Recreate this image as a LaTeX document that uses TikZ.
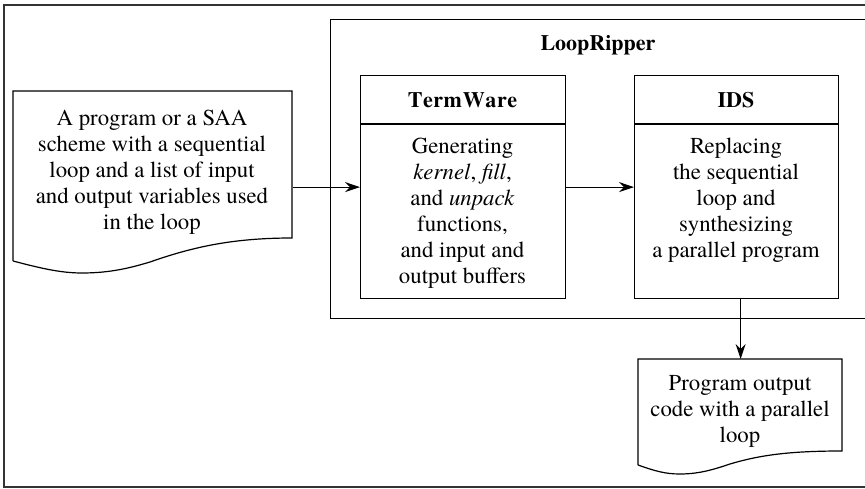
\documentclass[tikz,border=0pt]{standalone}
\usepackage{fontspec}
\setmainfont{texgyretermes}[Extension=.otf, UprightFont=*-regular, BoldFont=*-bold, ItalicFont=*-italic, BoldItalicFont=*-bolditalic]
\usetikzlibrary{arrows.meta}
\begin{document}
\begin{tikzpicture}[x=1pt,y=-1pt,
  line width=1.2pt,
  txt/.style={align=center, font=\fontsize{22.8}{26}\selectfont, inner sep=0pt},
  ttl/.style={font=\fontsize{22}{26}\selectfont\bfseries, inner sep=0pt},
  box/.style={draw, anchor=north west, inner sep=0pt},
  area/.style={anchor=north west, inner sep=0pt},
  arr/.style={-{Stealth[length=15pt,width=10pt,inset=5pt]}, line width=1.1pt}]
\useasboundingbox (0,0) rectangle (865,489);
\clip (0,0) rectangle (865,489);
% outer frame
\draw[black!80] (4,5) rectangle (872,487);
% LoopRipper
\node[box, minimum width=540pt, minimum height=299pt] (lr) at (330,19) {};
\node[ttl] (lrt) at (598,45) {LoopRipper};
% TermWare
\node[box, minimum width=205pt, minimum height=223pt] (tw) at (360,75) {};
\coordinate (twsep) at (360,124);
\draw (twsep) -- (twsep -| tw.east);
\node[ttl] (twt) at (462.5,100) {T\kern0.5pt e\kern0.5pt r\kern0.5pt m\kern1pt W\kern0.5pt a\kern0.5pt r\kern0.5pt e};
\node[txt] (twb) at (462.5,213) {Generating\\\emph{kernel}, \emph{fill},\\and \emph{unpack}\\functions,\\and input and\\output buffers};
% IDS
\node[box, minimum width=204pt, minimum height=223pt] (ids) at (634,75) {};
\coordinate (idssep) at (634,124);
\draw (idssep) -- (idssep -| ids.east);
\node[ttl] (idst) at (736,100) {IDS};
\node[txt] (idsb) at (736,200) {Replacing\\the sequential\\loop and\\synthesizing\\a parallel program};
% input document
\node[area, minimum width=279pt, minimum height=147pt] (indoc) at (13,91) {};
\draw (13,261) -- (13,91) -- (292,91) -- (292,238)
  .. controls (230,238) and (190,248) .. (150,262)
  .. controls (130,268) and (110,273) .. (82,273)
  .. controls (60,273) and (40,268) .. (13,261);
\node[txt] (indt) at (152,172.5) {A program or a SAA\\scheme with a sequential\\loop and a list of input\\and output variables used\\in the loop};
% output document
\node[area, minimum width=204pt, minimum height=92pt] (outdoc) at (638,359) {};
\draw (638,465) -- (638,359) -- (842,359) -- (842,451)
  .. controls (790,451) and (760,455) .. (730,464)
  .. controls (715,469) and (700,474) .. (680,474)
  .. controls (665,474) and (655,471) .. (638,465);
\node[txt] (outt) at (740,411) {Program output\\code with a parallel\\loop};
% connectors
\draw[arr] (indoc.east |- tw.west) -- (tw.west);
\draw[arr] (tw.east) -- (ids.west);
\draw[arr] (ids.south -| outdoc.north) -- (outdoc.north);
\end{tikzpicture}
\end{document}
